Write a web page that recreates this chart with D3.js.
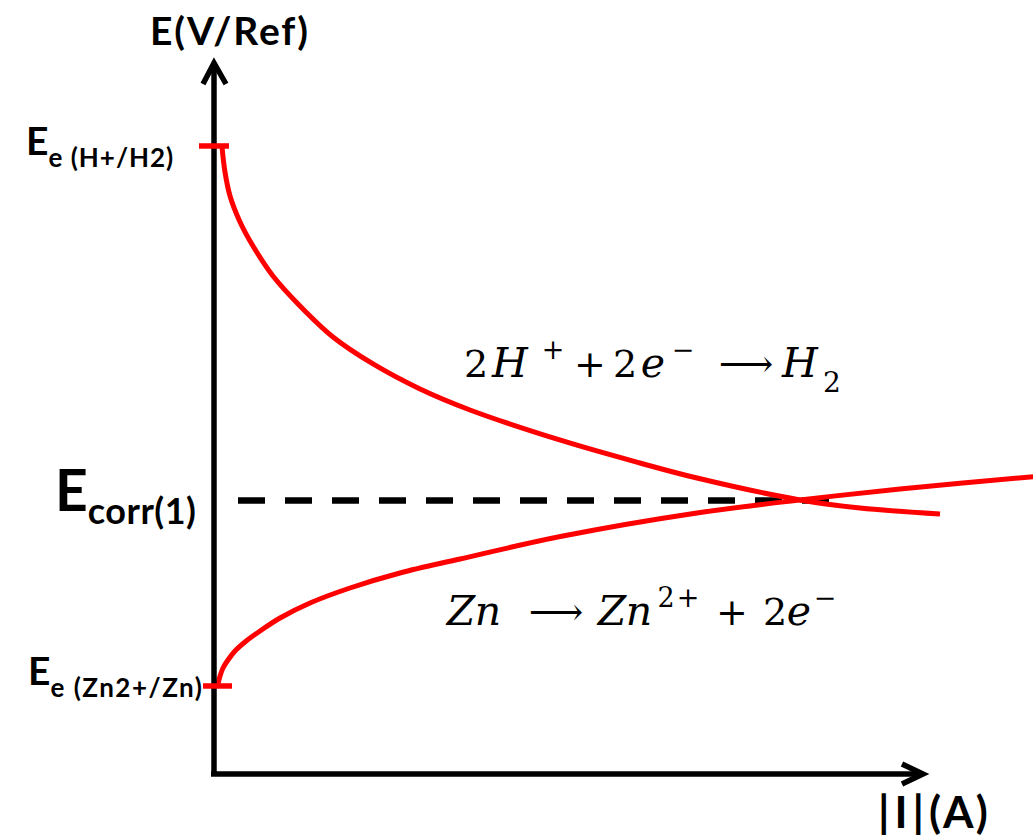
<!DOCTYPE html>
<html><head><meta charset="utf-8">
<script src="https://cdn.jsdelivr.net/npm/d3@7"></script>
<style>body{margin:0;background:#fff}</style>
</head><body>
<svg id="chart" width="1033" height="840"></svg>
<script>
// ---- data (abstract units: |I| 0..100 along the arrow, E 0..100 along the arrow) ----
const cathodicCurrent   = [1.13, 1.55, 2.26, 3.67, 5.50, 8.32, 12.13, 16.78, 22.43, 29.06, 36.11, 49.22, 60.08, 68.12, 82.65, 91.11, 102.40];
const cathodicPotential = [88.19, 84.67, 81.29, 77.64, 74.26, 70.04, 65.82, 61.46, 57.67, 54.15, 51.20, 46.84, 43.74, 41.63, 38.54, 37.41, 36.57];
const anodicCurrent     = [0.56, 0.85, 1.27, 1.97, 2.96, 4.37, 6.49, 9.31, 13.54, 19.18, 26.23, 34.70, 49.22, 68.12, 82.65, 96.76, 116.50];
const anodicPotential   = [12.66, 13.78, 14.91, 16.03, 17.30, 18.57, 20.11, 21.94, 24.05, 26.16, 28.27, 30.24, 33.47, 36.71, 38.54, 40.08, 41.91];
const equilibriumCouples    = ["H+/H2", "Zn2+/Zn"];
const equilibriumPotentials = [88.33, 12.38];
const corrosionPotential = 38.45;
const corrosionCurrent   = 82.65;
const axisTitles = ["E(V/Ref)", "|I|", "(A)"];

const svg = d3.select("#chart");
const x = d3.scaleLinear().domain([0, 100]).range([214, 923]);
const y = d3.scaleLinear().domain([0, 100]).range([774, 63]);
const RED = "#ff0000";

const line = d3.line().x(d => x(d[0])).y(d => y(d[1])).curve(d3.curveCatmullRom.alpha(0.5));
const cathodic = cathodicCurrent.map((c, i) => [c, cathodicPotential[i]]);
const anodic = anodicCurrent.map((c, i) => [c, anodicPotential[i]]);

// dashed corrosion potential line
svg.append("line")
  .attr("x1", x(0) + 24).attr("x2", x(corrosionCurrent) + 30)
  .attr("y1", y(corrosionPotential)).attr("y2", y(corrosionPotential))
  .attr("stroke", "#000").attr("stroke-width", 6.5).attr("stroke-dasharray", "27,20");

svg.append("path").datum(cathodic).attr("d", line)
  .attr("fill", "none").attr("stroke", RED).attr("stroke-width", 5);
svg.append("path").datum(anodic).attr("d", line)
  .attr("fill", "none").attr("stroke", RED).attr("stroke-width", 5);

// axes
const ax = svg.append("g").attr("stroke", "#000").attr("stroke-width", 5.5).attr("fill", "none");
ax.append("line").attr("x1", x(0)).attr("x2", x(0)).attr("y1", y(0) + 2).attr("y2", y(100));
ax.append("line").attr("x1", x(0) - 3).attr("x2", x(100)).attr("y1", y(0)).attr("y2", y(0));
ax.append("path").attr("stroke-linejoin", "miter")
  .attr("d", `M${x(0) - 11},${y(100) + 21} L${x(0)},${y(100)} L${x(0) + 12},${y(100) + 21}`);
ax.append("path").attr("stroke-linejoin", "miter")
  .attr("d", `M${x(100) - 21},${y(0) - 10} L${x(100)},${y(0)} L${x(100) - 21},${y(0) + 10}`);

// equilibrium ticks
const tickExt = [[-15, 15], [-11, 18]];
equilibriumPotentials.forEach((e, i) => {
  svg.append("line")
    .attr("x1", x(0) + tickExt[i][0]).attr("x2", x(0) + tickExt[i][1])
    .attr("y1", y(e)).attr("y2", y(e))
    .attr("stroke", RED).attr("stroke-width", 5.5);
});

// labels
const SANS = "Lato, 'Open Sans', sans-serif";
svg.append("text").attr("x", 150).attr("y", 45).attr("font-family", SANS).attr("font-weight", 700)
  .attr("font-size", 39).attr("letter-spacing", 1.8).text(axisTitles[0]);
const xt = svg.append("text").attr("x", 878).attr("y", 828).attr("font-family", SANS).attr("font-weight", 700)
  .attr("font-size", 44);
xt.append("tspan").attr("letter-spacing", 5).text(axisTitles[1]);
xt.append("tspan").attr("letter-spacing", 2).text(axisTitles[2]);

function eqLabel(xp, base, couple, ls) {
  const t = svg.append("text").attr("x", xp).attr("y", base).attr("font-family", SANS)
    .attr("font-weight", 700).attr("font-size", 39);
  t.append("tspan").text("E");
  t.append("tspan").attr("dy", 12).attr("font-size", 26).attr("letter-spacing", ls).text("e (" + couple + ")");
}
eqLabel(26, y(equilibriumPotentials[0]) + 9, equilibriumCouples[0], 1.0);
eqLabel(28, y(equilibriumPotentials[1]) - 1, equilibriumCouples[1], 1.5);

const ec = svg.append("text").attr("x", 55).attr("y", y(corrosionPotential) + 10).attr("font-family", SANS)
  .attr("font-weight", 700).attr("font-size", 57);
ec.append("tspan").text("E");
ec.append("tspan").attr("dy", 13).attr("font-size", 36).attr("letter-spacing", 0.5).text("corr(1)");

// reaction equations: each piece centred on its own x
const SERIF = "'DejaVu Serif', 'Liberation Serif', serif";
function equation(base, parts) {
  const t = svg.append("text").attr("font-family", SERIF).attr("fill", "#000").attr("text-anchor", "middle");
  parts.forEach(p => {
    const s = t.append("tspan").attr("x", p.x)
      .attr("y", base + (p.sup ? -18 : p.sub ? 15 : 0))
      .attr("font-size", p.sup ? 27 : p.sub ? 28 : p.i ? 41 : 38)
      .text(p.t);
    if (p.i) s.attr("font-style", "italic");
  });
}
equation(377, [
  {t: "2", x: 476}, {t: "H", x: 510, i: 1}, {t: "+", x: 553}, {t: "+", x: 590},
  {t: "2", x: 625}, {t: "e", x: 653, i: 1}, {t: "\u2212", x: 683},
  {t: "\u27F6", x: 746}, {t: "H", x: 800, i: 1}, {t: "2", x: 832}
].map((p, i) => Object.assign(p, i === 2 || i === 6 ? {sup: 1} : i === 9 ? {sub: 1} : {})));
equation(625, [
  {t: "Z", x: 461, i: 1}, {t: "n", x: 488, i: 1}, {t: "\u27F6", x: 556},
  {t: "Z", x: 612, i: 1}, {t: "n", x: 639, i: 1}, {t: "2", x: 666, sup: 1}, {t: "+", x: 688, sup: 1},
  {t: "+", x: 732}, {t: "2", x: 775}, {t: "e", x: 799, i: 1}, {t: "\u2212", x: 825, sup: 1}
]);
</script>
</body></html>
